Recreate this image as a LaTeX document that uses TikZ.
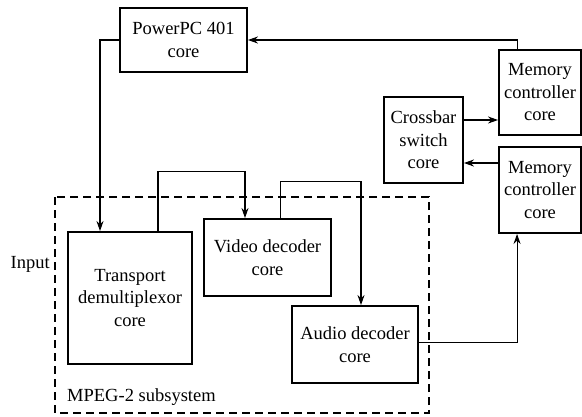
\documentclass[tikz,border=0pt]{standalone}
\usepackage{fontspec}
\setmainfont{Liberation Serif}
\usetikzlibrary{arrows.meta}
\begin{document}
\begin{tikzpicture}[x=1pt,y=-1pt,
  block/.style={draw,line width=1.9pt,align=center,inner sep=0pt,
    font=\fontsize{18.5}{22.5}\selectfont},
  conn/.style={line width=1.1pt},
  arr/.style={conn,-{Stealth[length=10pt,width=7pt]}},
  lbl/.style={inner sep=0pt,font=\fontsize{18.5}{22.5}\selectfont}]
\useasboundingbox (0,0) rectangle (582,416);

% subsystem boundary
\draw[line width=1.1pt,dash pattern=on 8pt off 5pt] (55,197) rectangle (429,413);

% blocks
\node[block,minimum width=127,minimum height=64] (ppc) at (183.5,40) {PowerPC 401\\core};
\node[block,minimum width=82,minimum height=85] (mem1) at (540,92.5) {Memory\\controller\\core};
\node[block,minimum width=82,minimum height=86] (mem2) at (540,190) {Memory\\controller\\core};
\node[block,minimum width=79,minimum height=86] (xbar) at (423.5,140) {Crossbar\\switch\\core};
\node[block,minimum width=124,minimum height=132] (td) at (130,298) {Transport\\demultiplexor\\core};
\node[block,minimum width=127,minimum height=77] (vd) at (267.5,257.5) {Video decoder\\core};
\node[block,minimum width=126,minimum height=77] (ad) at (355,344.5) {Audio decoder\\core};

% labels
\node[lbl,anchor=east] (inp) at (50,264) {Input};
\node[lbl,anchor=west] (sub) at (67,397) {MPEG-2 subsystem};

% connectors
\draw[arr] (ppc.west) -| ([xshift=-30pt]td.north);
\draw[arr] ([xshift=19pt]mem1.north west) |- (ppc.east);
\draw[arr] ([yshift=20pt]xbar.east) -- ([yshift=20pt]xbar.east -| mem1.west);
\draw[arr] ([yshift=-23pt]xbar.east -| mem2.west) -- ([yshift=-23pt]xbar.east);
\draw[arr] ([xshift=28pt]td.north) -- ++(0,-60) -| ([xshift=-22.5pt]vd.north);
\draw[arr] ([xshift=13pt]vd.north) -- ++(0,-37) -| ([xshift=6pt]ad.north);
\draw[arr] ([yshift=2pt]ad.east) -| ([xshift=19pt]mem2.south west);
\end{tikzpicture}
\end{document}
